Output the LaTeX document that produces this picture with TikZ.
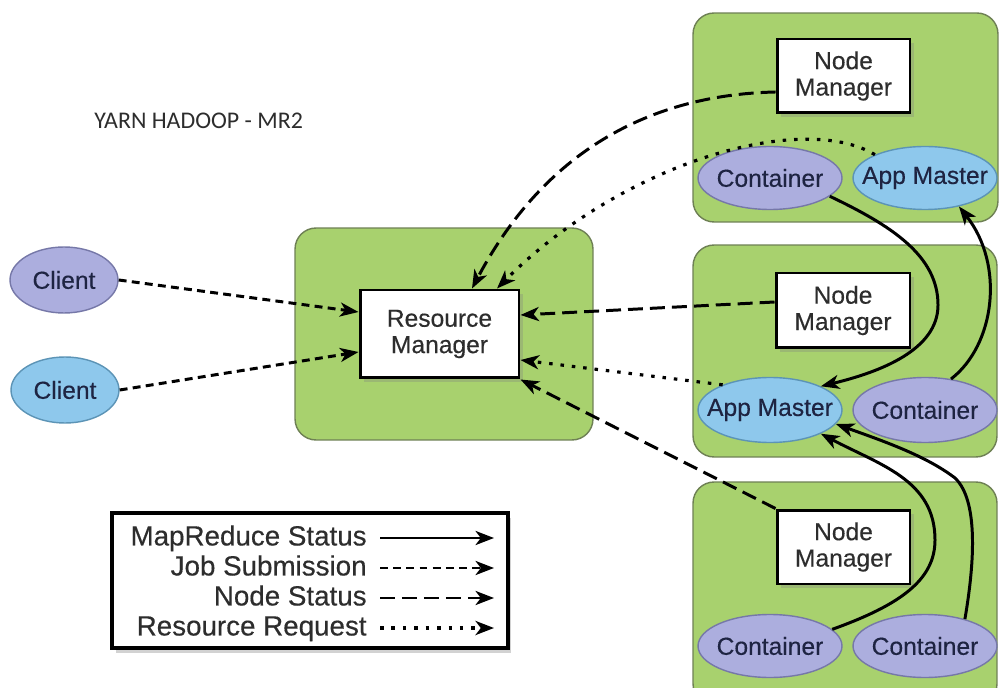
\documentclass[tikz,border=0pt]{standalone}
\usepackage{fontspec}
\setmainfont{Liberation Sans}
\newfontfamily\labelfont[FakeBold=0.35]{Liberation Sans}
\newfontfamily\titlefont{Carlito}
\usetikzlibrary{arrows.meta,shadows,shapes.geometric}
\definecolor{hostgreen}{RGB}{168,209,110}
\definecolor{hostedge}{RGB}{110,128,84}
\definecolor{lavender}{RGB}{172,174,222}
\definecolor{lavedge}{RGB}{118,120,168}
\definecolor{skyblue}{RGB}{142,200,236}
\definecolor{skyedge}{RGB}{92,148,182}
\definecolor{inktext}{RGB}{30,36,66}
\definecolor{boxtext}{RGB}{45,45,45}
\begin{document}
\begin{tikzpicture}[x=0.02cm,y=-0.02cm,
  tip/.style={-{Stealth[length=10.5pt,width=8pt,inset=3pt]}},
  host/.style={draw=hostedge, line width=0.8pt, fill=hostgreen, rounded corners=0.42cm, inner sep=0pt},
  mgr/.style={draw=black, line width=1.7pt, fill=white, align=center, inner sep=0pt,
    text=boxtext, font=\labelfont\fontsize{14}{15}\selectfont,
    drop shadow={shadow xshift=2pt, shadow yshift=-2pt, opacity=0.3}},
  proc/.style={ellipse, line width=0.8pt, inner xsep=-0.3cm, inner ysep=0pt, text=inktext,
    font=\labelfont\fontsize{14}{15}\selectfont, minimum width=2.88cm, minimum height=1.26cm},
  lavproc/.style={proc, draw=lavedge, fill=lavender},
  skyproc/.style={proc, draw=skyedge, fill=skyblue},
  mrflow/.style={tip, line width=1.7pt},
  jobflow/.style={tip, line width=1.7pt, dash pattern=on 4.5pt off 3pt},
  nodeflow/.style={tip, line width=1.7pt, dash pattern=on 8.5pt off 4pt},
  reqflow/.style={tip, line width=1.8pt, dash pattern=on 2pt off 4.5pt},
  legtext/.style={anchor=east, text=boxtext, font=\labelfont\fontsize{15.8}{17}\selectfont,
    text height=11.5pt, text depth=3pt, inner sep=0pt}
]
\fill[white] (0,0) rectangle (999,688);
\useasboundingbox (0,0) rectangle (999,688);
\clip (0,0) rectangle (999,688);

% title
\node[anchor=west, text=boxtext, font=\titlefont\fontsize{13.6}{15}\selectfont, inner sep=0pt]
  (title) at (94,121) {YARN HADOOP - MR2};

% host boxes
\node[host, minimum width=5.96cm, minimum height=4.24cm] (rmhost) at (444,334) {};
\node[host, minimum width=6.10cm, minimum height=4.18cm] (hostA) at (845.5,117.5) {};
\node[host, minimum width=6.08cm, minimum height=4.24cm] (hostB) at (845,351) {};
\node[host, minimum width=6.08cm, minimum height=4.46cm] (hostC) at (845,593.5) {};

% clients
\node[lavproc, minimum width=2.16cm, minimum height=1.32cm] (cl1) at (64,280) {Client};
\node[skyproc, minimum width=2.16cm, minimum height=1.32cm] (cl2) at (65,390) {Client};

% resource manager
\node[mgr, minimum width=3.18cm, minimum height=1.76cm] (rm) at (439.5,334) {Resource\\Manager};

% node managers
\node[mgr, minimum width=2.66cm, minimum height=1.48cm] (nmA) at (843.5,76) {Node\\Manager};
\node[mgr, minimum width=2.68cm, minimum height=1.50cm] (nmB) at (843,310.5) {Node\\Manager};
\node[mgr, minimum width=2.66cm, minimum height=1.48cm] (nmC) at (843.5,547) {Node\\Manager};

% containers and application masters
\node[lavproc] (ctA) at (770,178) {Container};
\node[skyproc] (amA) at (925,178) {App Master};
\node[skyproc, minimum height=1.3cm] (amB) at (770,410) {App Master};
\node[lavproc, minimum height=1.3cm] (ctB) at (925,410) {Container};
\node[lavproc] (ctC1) at (770,646) {Container};
\node[lavproc] (ctC2) at (925,646) {Container};

% job submission
\draw[jobflow] (cl1.east) -- ([yshift=0.44cm]rm.west);
\draw[jobflow] (cl2.east) -- ([yshift=-0.36cm]rm.west);

% node status
\draw[nodeflow] ([yshift=-0.32cm]nmA.west) .. controls (640,95) and (540,160) .. ([xshift=0.65cm]rm.north);
\draw[nodeflow] ([yshift=0.17cm]nmB.west) -- ([yshift=0.38cm]rm.east);
\draw[nodeflow] (nmC.north west) -- (rm.south east);

% resource requests
\draw[reqflow] (amA.155) .. controls (800,110) and (620,165) .. ([xshift=1.15cm]rm.north);
\draw[reqflow] (amB.152) -- ([yshift=-0.52cm]rm.east);

% mapreduce status
\draw[mrflow] (ctA.-17) .. controls (890,225) and (938,255) .. (938,305)
  .. controls (938,350) and (880,372) .. (amB.25);
\draw[mrflow] (ctB.50) .. controls (995,345) and (1005,265) .. (amA.-40);
\draw[mrflow] (ctC1.15) .. controls (900,605) and (935,580) .. (935,540)
  .. controls (935,480) and (880,465) .. (amB.-25);
\draw[mrflow] (ctC2.34) .. controls (975,560) and (978,500) .. (955,478)
  .. controls (925,455) and (880,440) .. (amB.-12);

% legend
\node[draw=black, line width=1.8pt, fill=white, minimum width=7.92cm, minimum height=2.7cm,
  drop shadow={shadow xshift=2pt, shadow yshift=-3pt, opacity=0.35}] (legend) at (310,580.5) {};
\node[legtext] (lgMR) at (367,538) {MapReduce Status};
\node[legtext] (lgJob) at (367,568) {Job Submission};
\node[legtext] (lgNode) at (367,598) {Node Status};
\node[legtext] (lgReq) at (367,628) {Resource Request};
\coordinate (lgMRa) at (380,538);  \coordinate (lgMRb) at (494,538);
\coordinate (lgJoba) at (380,568); \coordinate (lgJobb) at (494,568);
\coordinate (lgNodea) at (380,598); \coordinate (lgNodeb) at (494,598);
\coordinate (lgReqa) at (380,628); \coordinate (lgReqb) at (494,628);
\draw[mrflow] (lgMRa) -- (lgMRb);
\draw[jobflow] (lgJoba) -- (lgJobb);
\draw[nodeflow] (lgNodea) -- (lgNodeb);
\draw[reqflow] (lgReqa) -- (lgReqb);
\end{tikzpicture}
\end{document}
